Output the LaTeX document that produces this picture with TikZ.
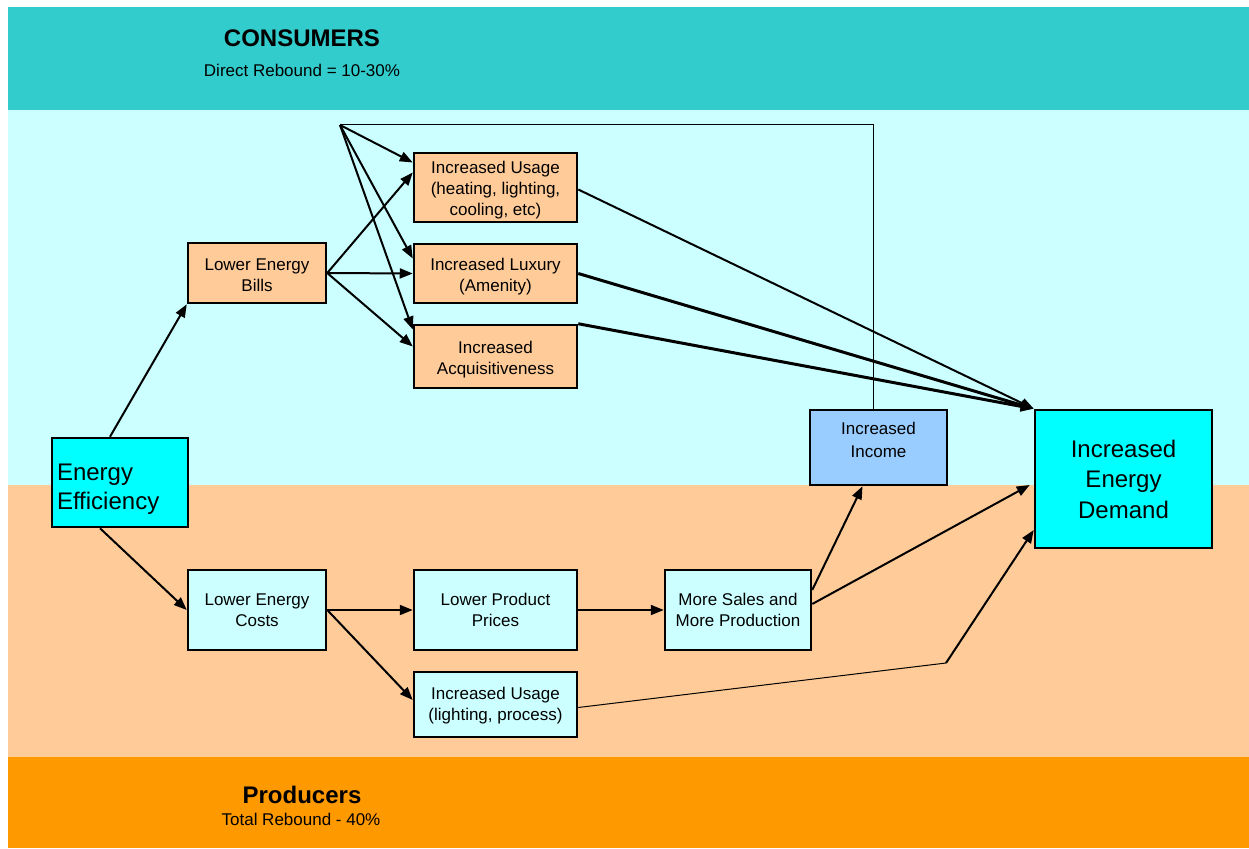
\documentclass[tikz,border=0pt]{standalone}
\usepackage{fontspec}
\setmainfont{Liberation Sans}
\usetikzlibrary{arrows.meta}
\definecolor{bannerteal}{HTML}{33CCCC}
\definecolor{lightcyan}{HTML}{CCFFFF}
\definecolor{peach}{HTML}{FFCC99}
\definecolor{orangeband}{HTML}{FF9900}
\definecolor{brightcyan}{HTML}{00FFFF}
\definecolor{incblue}{HTML}{99CCFF}
\tikzset{
  box/.style={draw=black, line width=2.5pt, inner sep=0pt, align=center,
    font=\fontsize{17}{21}\selectfont},
  bigbox/.style={box, font=\fontsize{24}{29}\selectfont},
  textpos/.style={text depth=0pt, text height=#1},
  arr/.style={line width=2pt, -{Triangle[length=13pt,width=10pt]}},
  thickarr/.style={line width=3pt, -{Triangle[length=13pt,width=10pt]}},
  thinline/.style={line width=1pt},
  bandtitle/.style={font=\fontsize{24}{28}\selectfont\bfseries, inner sep=0pt},
  bandsub/.style={font=\fontsize{17}{20}\selectfont, inner sep=0pt},
}
\begin{document}
\begin{tikzpicture}[x=1pt,y=-1pt]
\useasboundingbox (0,0) rectangle (1249,848);
\fill[white] (0,0) rectangle (1249,848);
% bands
\fill[bannerteal] (8,7) rectangle (1249,110);
\fill[lightcyan] (8,110) rectangle (1249,485);
\fill[peach] (8,485) rectangle (1249,757);
\fill[orangeband] (8,757) rectangle (1249,848);
\node[bandtitle] (consumers) at (302,38) {CONSUMERS};
\node[bandsub] (direct) at (302,70) {Direct Rebound = 10-30\%};
\node[bandtitle] (producers) at (302,795) {Producers};
\node[bandsub] (total) at (301,819) {Total Rebound - 40\%};
% nodes
\node[bigbox, fill=brightcyan, minimum width=136pt, minimum height=89pt, align=left, text width=126pt, text height=0pt, text depth=4pt] (ee) at (120,482.5) {Energy\\Efficiency};
\node[box, fill=peach, minimum width=138pt, minimum height=60pt, textpos=37.4pt] (leb) at (257,273) {Lower Energy\\Bills};
\node[box, fill=peach, minimum width=163pt, minimum height=69pt, textpos=56.4pt] (iu1) at (495.5,187.5) {Increased Usage\\(heating, lighting,\\cooling, etc)};
\node[box, fill=peach, minimum width=163pt, minimum height=59pt, textpos=36.4pt] (il) at (495.5,273.5) {Increased Luxury\\(Amenity)};
\node[box, fill=peach, minimum width=163pt, minimum height=63pt, textpos=36.4pt] (ia) at (495.5,356.5) {Increased\\Acquisitiveness};
\node[box, fill=incblue, minimum width=137pt, minimum height=75pt, font=\fontsize{17}{23}\selectfont, textpos=20.4pt] (inc) at (878.5,447.5) {Increased\\Income};
\node[bigbox, fill=brightcyan, minimum width=177pt, minimum height=138pt, font=\fontsize{24}{30.5}\selectfont] (ied) at (1123.5,479) {Increased\\Energy\\Demand};
\node[box, fill=lightcyan, minimum width=138pt, minimum height=80pt] (lec) at (257,610) {Lower Energy\\Costs};
\node[box, fill=lightcyan, minimum width=163pt, minimum height=80pt] (lpp) at (495.5,610) {Lower Product\\Prices};
\node[box, fill=lightcyan, minimum width=146pt, minimum height=80pt] (ms) at (738,610) {More Sales and\\More Production};
\node[box, fill=lightcyan, minimum width=163pt, minimum height=65pt, textpos=32.4pt] (iu2) at (495.5,704.5) {Increased Usage\\(lighting, process)};
% helper coordinates
\coordinate (fan) at (340,125);
\coordinate (bend) at (946,663);
% connectors
\draw[arr] ([xshift=-10pt]ee.north) -- (leb.south west);
\draw[arr] ([xshift=-20pt]ee.south) -- (lec.west);
\draw[arr] (leb.east) -- ([yshift=15pt]iu1.west);
\draw[arr] (leb.east) -- (il.west);
\draw[arr] (leb.east) -- ([yshift=10pt]ia.west);
\draw[thinline] ([xshift=-5.5pt]inc.north) |- (fan);
\draw[arr] (fan) -- ([yshift=25pt]iu1.west);
\draw[arr] (fan) -- ([yshift=15pt]il.west);
\draw[arr] (fan) -- ([yshift=27pt]ia.west);
\draw[arr] ([yshift=-2pt]iu1.east) -- (ied.north west);
\draw[thickarr] (il.east) -- (ied.north west);
\draw[thickarr] (ia.north east) -- (ied.north west);
\draw[arr] (lec.east) -- (lpp.west);
\draw[arr] (lec.east) -- ([yshift=4.5pt]iu2.west);
\draw[arr] (lpp.east) -- (ms.west);
\draw[arr] ([yshift=20pt]ms.east) -- ([xshift=-16pt]inc.south);
\draw[arr] ([yshift=6pt]ms.east) -- ([yshift=-6pt,xshift=-4pt]ied.west);
\draw[thinline] ([yshift=-3pt]iu2.east) -- (bend);
\draw[arr] (bend) -- ([yshift=-51pt]ied.west);
\end{tikzpicture}
\end{document}
